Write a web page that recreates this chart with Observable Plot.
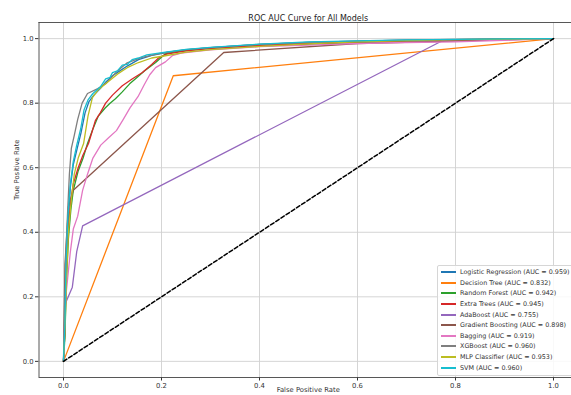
<!DOCTYPE html>
<html>
<head>
<meta charset="utf-8">
<script src="https://cdn.jsdelivr.net/npm/d3@7"></script>
<script src="https://cdn.jsdelivr.net/npm/@observablehq/plot@0.6"></script>
<style>
  html, body { margin: 0; padding: 0; background: #fff; overflow: hidden; }
  #wrap { position: relative; width: 571px; height: 395px; overflow: hidden; font-family: "DejaVu Sans", sans-serif; }
  #legend { position: absolute; left: 437px; top: 265px; padding: 1px 3px 2px 0;
    background: rgba(255,255,255,0.85); border: 1px solid #d6d6d6; border-radius: 2px; }
  .row { display: flex; align-items: center; height: 10.6px; }
  .sw { width: 15px; height: 2px; margin: 0 4px 0 3px; flex: none; }
  .lab { font-size: 6.4px; color: #333; white-space: nowrap; }
</style>
</head>
<body>
<div id="wrap"></div>
<script>
// ---- data ----
const modelNames = ["Logistic Regression", "Decision Tree", "Random Forest", "Extra Trees", "AdaBoost",
  "Gradient Boosting", "Bagging", "XGBoost", "MLP Classifier", "SVM"];
const aucValues = [0.959, 0.832, 0.942, 0.945, 0.755, 0.898, 0.919, 0.960, 0.953, 0.960];
const modelColors = ["#1f77b4", "#ff7f0e", "#2ca02c", "#d62728", "#9467bd", "#8c564b", "#e377c2", "#7f7f7f", "#bcbd22", "#17becf"];
const xTicks = [0, 0.2, 0.4, 0.6, 0.8, 1.0];
const yTicks = [0, 0.2, 0.4, 0.6, 0.8, 1.0];

const rocLogReg = [[0,0],[0.003,0.1],[0.005,0.28],[0.009,0.43],[0.014,0.54],[0.02,0.61],[0.028,0.66],[0.036,0.71],[0.044,0.77],[0.052,0.805],[0.062,0.825],[0.075,0.845],[0.086,0.865],[0.1,0.885],[0.115,0.9],[0.13,0.915],[0.153,0.935],[0.18,0.948],[0.21,0.957],[0.25,0.965],[0.3,0.972],[0.4,0.982],[0.5,0.988],[0.6,0.992],[0.7,0.995],[0.8,0.997],[0.9,0.999],[1,1]];
const rocDecisionTree = [[0,0],[0.224,0.885],[1,1]];
const rocRandomForest = [[0,0],[0.003,0.08],[0.006,0.25],[0.01,0.38],[0.015,0.47],[0.02,0.53],[0.03,0.59],[0.04,0.63],[0.049,0.675],[0.06,0.72],[0.071,0.76],[0.085,0.785],[0.095,0.8],[0.106,0.814],[0.12,0.835],[0.135,0.86],[0.147,0.876],[0.165,0.9],[0.188,0.926],[0.208,0.953],[0.23,0.96],[0.27,0.966],[0.3,0.97],[0.4,0.977],[0.5,0.983],[0.6,0.988],[0.7,0.992],[0.8,0.995],[0.9,0.998],[1,1]];
const rocExtraTrees = [[0,0],[0.003,0.1],[0.006,0.3],[0.01,0.42],[0.015,0.5],[0.02,0.55],[0.03,0.6],[0.04,0.64],[0.051,0.675],[0.058,0.71],[0.065,0.746],[0.075,0.77],[0.086,0.8],[0.1,0.825],[0.12,0.854],[0.14,0.875],[0.161,0.895],[0.18,0.92],[0.194,0.94],[0.21,0.952],[0.25,0.962],[0.3,0.97],[0.4,0.979],[0.5,0.985],[0.6,0.99],[0.7,0.993],[0.8,0.996],[1,1]];
const rocAdaBoost = [[0,0],[0.002,0.12],[0.004,0.18],[0.018,0.23],[0.027,0.34],[0.039,0.42],[0.775,0.995],[1,1]];
const rocGradBoost = [[0,0],[0.003,0.3],[0.01,0.48],[0.02,0.53],[0.327,0.957],[0.6,0.985],[1,1]];
const rocBagging = [[0,0],[0.002,0.1],[0.004,0.19],[0.01,0.28],[0.014,0.34],[0.02,0.41],[0.029,0.45],[0.039,0.53],[0.049,0.58],[0.06,0.63],[0.076,0.67],[0.092,0.693],[0.108,0.715],[0.122,0.75],[0.136,0.786],[0.152,0.82],[0.165,0.858],[0.176,0.888],[0.188,0.91],[0.208,0.928],[0.222,0.947],[0.24,0.955],[0.3,0.965],[0.4,0.975],[0.5,0.98],[0.6,0.985],[0.7,0.988],[0.8,0.99],[0.9,0.995],[1,1]];
const rocXGBoost = [[0,0],[0.002,0.15],[0.004,0.3],[0.008,0.45],[0.012,0.58],[0.016,0.66],[0.022,0.7],[0.029,0.75],[0.038,0.8],[0.049,0.83],[0.07,0.845],[0.086,0.86],[0.11,0.9],[0.13,0.925],[0.16,0.942],[0.2,0.955],[0.25,0.966],[0.3,0.972],[0.4,0.982],[0.5,0.988],[0.6,0.992],[0.7,0.995],[0.8,0.998],[0.9,0.999],[1,1]];
const rocMLP = [[0,0],[0.003,0.1],[0.006,0.25],[0.01,0.4],[0.016,0.5],[0.022,0.58],[0.03,0.63],[0.041,0.675],[0.05,0.76],[0.059,0.817],[0.07,0.84],[0.086,0.86],[0.11,0.89],[0.13,0.91],[0.153,0.926],[0.18,0.94],[0.208,0.947],[0.25,0.958],[0.3,0.966],[0.4,0.976],[0.5,0.984],[0.6,0.99],[0.7,0.994],[0.8,0.997],[1,1]];
const rocSVM = [[0,0],[0.003,0.12],[0.005,0.3],[0.009,0.45],[0.014,0.55],[0.02,0.62],[0.027,0.67],[0.035,0.72],[0.042,0.78],[0.05,0.81],[0.06,0.83],[0.075,0.85],[0.086,0.875],[0.095,0.88],[0.1,0.895],[0.11,0.9],[0.12,0.918],[0.13,0.92],[0.14,0.935],[0.153,0.94],[0.17,0.95],[0.208,0.958],[0.25,0.967],[0.3,0.973],[0.4,0.983],[0.5,0.99],[0.6,0.993],[0.7,0.996],[0.8,0.998],[0.9,0.999],[1,1]];
const diagonal = [[0,0],[1,1]];

const curves = [rocLogReg, rocDecisionTree, rocRandomForest, rocExtraTrees, rocAdaBoost,
  rocGradBoost, rocBagging, rocXGBoost, rocMLP, rocSVM];

// ---- build ----
const xDomain = [-0.05, 1.05];
const yDomain = [-0.05, 1.05];
const W = 571, H = 395;
const mL = 38.5, mT = 22, mB = 18;
const pxPerUnit = 490;

const fmt = d3.format(".1f");
const gridColor = "#d0d0d0";
const spine = "#444";

const lineMarks = curves.map((pts, i) =>
  Plot.line(pts, {x: d => d[0], y: d => d[1], stroke: modelColors[i], strokeWidth: 1.3})
);

const chart = Plot.plot({
  width: W, height: H,
  marginLeft: mL, marginTop: mT, marginBottom: mB, marginRight: 0,
  style: {fontFamily: "DejaVu Sans, sans-serif", fontSize: "6.8px", color: "#333", background: "transparent", overflow: "hidden"},
  x: {domain: xDomain, range: [mL, mL + pxPerUnit * (xDomain[1] - xDomain[0])], ticks: xTicks, tickFormat: fmt, tickSize: 3.5, tickPadding: 2, label: null},
  y: {domain: yDomain, ticks: yTicks, tickFormat: fmt, tickSize: 3.5, tickPadding: 2, label: null},
  marks: [
    Plot.ruleX(xTicks, {stroke: gridColor, strokeWidth: 0.9}),
    Plot.ruleY(yTicks, {stroke: gridColor, strokeWidth: 0.9}),
    ...lineMarks,
    Plot.line(diagonal, {x: d => d[0], y: d => d[1], stroke: "#000", strokeWidth: 1.5, strokeDasharray: "4,2.2"}),
    Plot.ruleX([xDomain[0]], {stroke: spine, strokeWidth: 0.9}),
    Plot.ruleY([yDomain[0], yDomain[1]], {stroke: spine, strokeWidth: 0.9}),
    Plot.text(["ROC AUC Curve for All Models"], {text: d => d, frameAnchor: "top", dy: -7, dx: 3, fontSize: 8, fill: "#222"}),
    Plot.text(["True Positive Rate"], {text: d => d, frameAnchor: "left", dx: -22, rotate: -90, fontSize: 6.8, fill: "#333"}),
    Plot.text(["False Positive Rate"], {text: d => d, frameAnchor: "bottom", dy: 14.5, dx: 3, fontSize: 6.8, fill: "#333"})
  ]
});
const wrap = document.getElementById("wrap");
wrap.appendChild(chart);

const legend = document.createElement("div");
legend.id = "legend";
modelNames.forEach((name, i) => {
  const row = document.createElement("div");
  row.className = "row";
  const sw = document.createElement("span");
  sw.className = "sw";
  sw.style.background = modelColors[i];
  const lab = document.createElement("span");
  lab.className = "lab";
  lab.textContent = `${name} (AUC = ${aucValues[i].toFixed(3)})`;
  row.appendChild(sw); row.appendChild(lab);
  legend.appendChild(row);
});
wrap.appendChild(legend);
</script>
</body>
</html>
